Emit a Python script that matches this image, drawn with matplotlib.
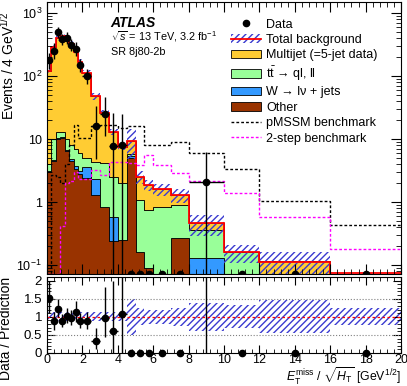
import numpy as np
import matplotlib
matplotlib.use("Agg")
import matplotlib.pyplot as plt
from matplotlib.patches import Patch
from matplotlib.lines import Line2D
from matplotlib.ticker import MultipleLocator, FixedLocator, FuncFormatter, LogLocator, NullFormatter

plt.rcParams['font.family'] = ['Liberation Sans', 'DejaVu Sans']
plt.rcParams['mathtext.fontset'] = 'custom'
plt.rcParams['mathtext.rm'] = 'Liberation Sans'
plt.rcParams['mathtext.it'] = 'Liberation Sans:italic'
plt.rcParams['mathtext.bf'] = 'Liberation Sans:bold'
plt.rcParams['hatch.linewidth'] = 1.0

# bin edges in ETmiss/sqrt(HT) [GeV^1/2]
edges = [0, 0.25, 0.5, 0.75, 1, 1.25, 1.5, 1.75, 2, 2.5, 3, 3.5, 4, 4.5,
         5, 5.5, 6, 7, 8, 10, 12, 16, 20]

# stacked backgrounds (events per bin)
other = [3.0, 4.5, 10, 10.5, 6.5, 4.5, 3.4, 2.8, 2.4, 1.3, 0.85, 0.24, 0.25,
         5.0, 0.16, 0.09, 0.0, 0.27, 0.0, 0.0, 0.0, 0.0]
wjets = [0.1, 0.2, 0.3, 0.3, 0.3, 0.3, 0.3, 0.3, 1.2, 1.0, 0.0, 0.33, 0.0,
         0.3, 0.0, 0.0, 0.0, 0.0, 0.13, 0.0, 0.0, 0.0]
ttbar = [0.9, 5.3, 2.7, 2.2, 3.2, 3.2, 3.3, 2.9, 1.4, 2.0, 3.25, 1.93, 1.75,
         0.5, 0.92, 0.66, 0.85, 0.63, 0.23, 0.16, 0.0, 0.0]
multijet = [116, 280, 397, 422, 390, 318, 237, 164, 108, 43.7, 21.9, 10.5, 5.6,
            3.7, 1.42, 1.11, 0.74, 0.39, 0.10, 0.0, 0.113, 0.04]
# relative uncertainty on total background
bkg_unc = [0.12, 0.12, 0.12, 0.12, 0.12, 0.12, 0.12, 0.12, 0.12, 0.12, 0.12,
           0.12, 0.12, 0.5, 0.23, 0.19, 0.2, 0.25, 0.38, 0.32, 0.45, 0.24]

# signal benchmarks
pmssm = [0.0, 2.7, 2.5, 2.0, 4.0, 8.0, 16.7, 10.5, 10.5, 16, 17, 17, 15,
         16, 16, 8.0, 8.0, 9.1, 6.0, 3.4, 1.04, 0.44]
twostep = [0.0, 0.0, 0.0, 0.41, 2.0, 2.2, 3.0, 2.3, 2.3, 3.2, 2.7, 4.3, 4.3,
           4.2, 3.9, 5.6, 3.9, 2.9, 2.2, 1.37, 0.58, 0.18]

# data
data = [182, 255, 500, 383, 408, 316, 273, 150, 99, 16.3, 25.2, 7.8, 8.2,
        0, 0, 0, 0, 0, 2.1, 0, 0, 0]
data_dn = [50, 70, 95, 75, 80, 65, 65, 32, 25, 11.5, 14, 7.8, 8.2,
           0, 0, 0, 0, 0, 2.1, 0, 0, 0]
data_up = [55, 75, 110, 85, 90, 70, 75, 38, 30, 17, 22, 18, 17,
           0, 0, 0, 0, 0, 4.2, 0, 0, 0]

c_mj = '#ffcc33'
c_tt = '#99ff99'
c_w = '#3399ff'
c_other = '#993300'
c_hatch = '#3a3ad0'

edges = np.array(edges)
centers = 0.5 * (edges[1:] + edges[:-1])
halfw = 0.5 * (edges[1:] - edges[:-1])
data = np.array(data)
total = np.array(other) + np.array(wjets) + np.array(ttbar) + np.array(multijet)
unc = np.array(bkg_unc)

fig = plt.figure(figsize=(4.07, 3.86), dpi=100)
ax = fig.add_axes([0.1155, 0.290, 0.8698, 0.7047])
rax = fig.add_axes([0.1155, 0.0855, 0.8698, 0.197])

ymin, ymax = 0.072, 1500
ax.set_yscale('log')
ax.set_xlim(0, 20)
ax.set_ylim(ymin, ymax)

# stacked histogram
base = np.full(len(centers), 1e-3)
for vals, col in [(other, c_other), (wjets, c_w), (ttbar, c_tt), (multijet, c_mj)]:
    top = base + np.array(vals)
    ax.stairs(top, edges, baseline=base, fill=True, facecolor=col,
              edgecolor='black', lw=0.6)
    base = top

# uncertainty band and total
ax.stairs(total * (1 + unc), edges, baseline=total * (1 - unc), fill=True,
          facecolor='none', edgecolor=c_hatch, hatch='/////', lw=0)
ax.stairs(np.clip(total, ymin * 1.03, None), edges, baseline=None, color='red', lw=1.3)

# benchmarks
ax.stairs(np.clip(pmssm, ymin, None), edges, baseline=None, color='black',
          ls=(0, (2, 1.5)), lw=1.0)
ax.stairs(np.clip(twostep, ymin, None), edges, baseline=None, color='#ff00ff',
          ls=(0, (2, 1.5)), lw=1.0)

# data
nz = data > 0
ax.errorbar(centers[nz], data[nz], xerr=halfw[nz],
            yerr=[np.array(data_dn)[nz] * 0.999, np.array(data_up)[nz]],
            fmt='o', color='black', ms=4.5, elinewidth=1.0, capsize=0)
ax.plot(centers[~nz], np.full((~nz).sum(), ymin), 'o', color='black', ms=4.5)

ax.yaxis.set_major_locator(FixedLocator([0.1, 1, 10, 100, 1000]))
ylab = {0.1: '$10^{-1}$', 1: '1', 10: '10', 100: '$10^{2}$', 1000: '$10^{3}$'}
ax.yaxis.set_major_formatter(FuncFormatter(lambda v, p: ylab.get(round(v, 3), '')))
ax.yaxis.set_minor_locator(LogLocator(base=10, subs=np.arange(2, 10), numticks=20))
ax.yaxis.set_minor_formatter(NullFormatter())
ax.xaxis.set_major_locator(MultipleLocator(2))
ax.xaxis.set_minor_locator(MultipleLocator(0.4))
ax.tick_params(which='both', direction='in', top=True, right=True, labelsize=9)
ax.tick_params(which='major', length=7)
ax.tick_params(which='minor', length=3.5)
ax.tick_params(axis='x', labelbottom=False)
ax.set_ylabel('Events / 4 GeV$^{1/2}$', fontsize=10, loc='top')
ax.yaxis.set_label_coords(-0.085, 0.965)

# labels
ax.text(0.18, 0.908, 'ATLAS', transform=ax.transAxes, fontsize=10,
        fontweight='bold', fontstyle='italic')
ax.text(0.18, 0.86, r'$\sqrt{s}$ = 13 TeV, 3.2 fb$^{-1}$', transform=ax.transAxes,
        fontsize=7.8)
ax.text(0.18, 0.805, 'SR 8j80-2b', transform=ax.transAxes, fontsize=7.8)

handles = [
    Line2D([], [], marker='o', color='black', ls='none', ms=4.5),
    (Patch(facecolor='none', edgecolor=c_hatch, hatch='/////', lw=0),
     Line2D([], [], color='red', lw=1.3)),
    Patch(facecolor=c_mj, edgecolor='black', lw=0.6),
    Patch(facecolor=c_tt, edgecolor='black', lw=0.6),
    Patch(facecolor=c_w, edgecolor='black', lw=0.6),
    Patch(facecolor=c_other, edgecolor='black', lw=0.6),
    Line2D([], [], color='black', ls=(0, (2, 1.5)), lw=1.0),
    Line2D([], [], color='#ff00ff', ls=(0, (2, 1.5)), lw=1.0),
]
labels = ['Data', 'Total background', 'Multijet (=5-jet data)',
          r'$\mathrm{t\bar{t}}$ → ql, ll', 'W → lν + jets', 'Other',
          'pMSSM benchmark', '2-step benchmark']
fig.legend(handles, labels, loc='upper left', bbox_to_anchor=(0.568, 0.952),
           frameon=False, fontsize=9, borderpad=0, borderaxespad=0,
           handlelength=2.4, handletextpad=0.4, labelspacing=0.27)

# ratio panel
ratio = data / total
rax.set_xlim(0, 20)
rax.set_ylim(0, 2.1)
rax.stairs(1 + unc, edges, baseline=1 - unc, fill=True, facecolor='none',
           edgecolor=c_hatch, hatch='/////', lw=0)
for yv in [0.5, 1.5]:
    rax.axhline(yv, color='gray', ls=':', lw=0.8)
rax.axhline(1, color='red', ls=(0, (2, 2)), lw=0.9)
rax.errorbar(centers[nz], ratio[nz], xerr=halfw[nz],
             yerr=[np.array(data_dn)[nz] / total[nz], np.array(data_up)[nz] / total[nz]],
             fmt='o', color='black', ms=4.5, elinewidth=1.0, capsize=0)
rax.plot(centers[~nz], ratio[~nz], 'o', color='black', ms=4.5, clip_on=False)

rax.yaxis.set_major_locator(FixedLocator([0, 0.5, 1, 1.5, 2]))
rax.yaxis.set_major_formatter(FuncFormatter(lambda v, p: '%g' % v))
rax.yaxis.set_minor_locator(MultipleLocator(0.1))
rax.xaxis.set_major_locator(MultipleLocator(2))
rax.xaxis.set_minor_locator(MultipleLocator(0.4))
rax.tick_params(which='both', direction='in', top=True, right=True, labelsize=9.5)
rax.tick_params(axis='x', pad=1, labelsize=9)
rax.tick_params(which='major', length=6)
rax.tick_params(which='minor', length=3)
rax.set_ylabel('Data / Prediction', fontsize=10)
rax.yaxis.set_label_coords(-0.095, 0.32)
rax.set_xlabel(r'$E_{\mathrm{T}}^{\mathrm{miss}}$ / $\sqrt{H_{\mathrm{T}}}$ [GeV$^{1/2}$]',
               fontsize=8.8, loc='right', labelpad=-0.5)

fig.savefig('out.png', dpi=100)
